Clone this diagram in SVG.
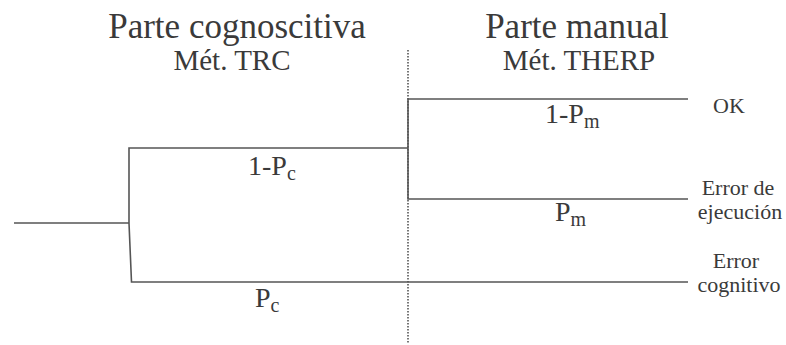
<svg xmlns="http://www.w3.org/2000/svg" width="786" height="345" viewBox="0 0 786 345">
<style>
.ln{stroke:#555;stroke-width:1.6;fill:none}
.dot{stroke:#555;stroke-width:1.6;stroke-dasharray:1.5 1.5;fill:none}
.t{font-family:'Liberation Serif',serif;fill:#3a3a3a}
.h1{font-size:35px;text-anchor:middle}
.h2{font-size:29px;text-anchor:middle}
.p{font-size:28px}
.o{font-size:22px;text-anchor:middle}
</style>
<rect width="786" height="345" fill="#fff"/>
<g id="connectors">
<line class="dot" x1="408" y1="50" x2="408" y2="343"/>
<polyline class="ln" points="14,223 129,223"/>
<polyline class="ln" points="408,148 129,148 129,223 131.5,282 688,282"/>
<polyline class="ln" points="688,99 408,99 408,199 688,199"/>
</g>
<g class="t" font-family="Liberation Serif, serif">
<g id="header-cognitiva">
<text class="h1" x="237" y="38">Parte cognoscitiva</text>
<text class="h2" x="232" y="70">Mét. TRC</text>
</g>
<g id="header-manual">
<text class="h1" x="577" y="38">Parte manual</text>
<text class="h2" x="579" y="70">Mét. THERP</text>
</g>
<g id="label-1pc"><text class="p" x="248" y="175">1-P<tspan font-size="20" dy="5">c</tspan></text></g>
<g id="label-pc"><text class="p" x="255" y="307">P<tspan font-size="20" dy="5">c</tspan></text></g>
<g id="label-1pm"><text class="p" x="545" y="123">1-P<tspan font-size="20" dy="5">m</tspan></text></g>
<g id="label-pm"><text class="p" x="555" y="221">P<tspan font-size="20" dy="5">m</tspan></text></g>
<g id="out-ok"><text class="o" x="729" y="113">OK</text></g>
<g id="out-ejec"><text class="o" x="738" y="195">Error de</text><text class="o" x="740" y="219">ejecución</text></g>
<g id="out-cog"><text class="o" x="736" y="268">Error</text><text class="o" x="739" y="292">cognitivo</text></g>
</g>
</svg>
